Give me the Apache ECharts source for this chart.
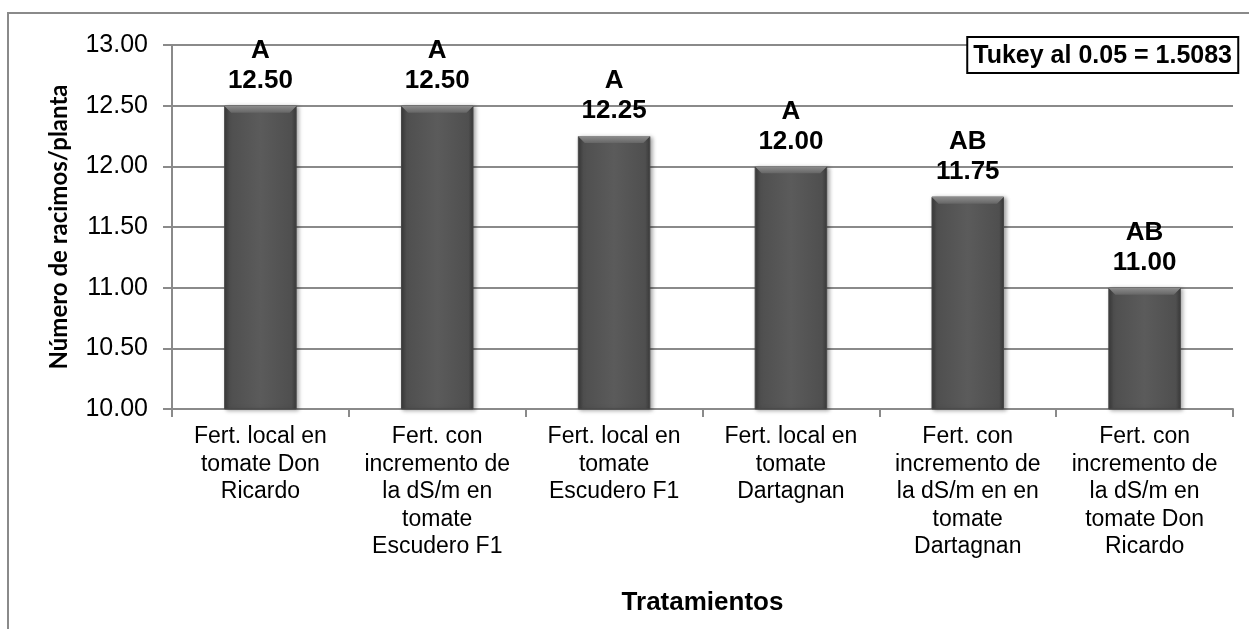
<!DOCTYPE html>
<html>
<head>
<meta charset="utf-8">
<script src="https://cdn.jsdelivr.net/npm/echarts@6/dist/echarts.min.js"></script>
<style>
  html, body { margin: 0; padding: 0; background: #fff; }
  #chart { width: 1249px; height: 629px; }
</style>
</head>
<body>
<div id="chart"></div>
<script>
// Treatments (category labels, wrapped as printed under each bar)
const categories = [
  'Fert. local en\ntomate Don\nRicardo',
  'Fert. con\nincremento de\nla dS/m en\ntomate\nEscudero F1',
  'Fert. local en\ntomate\nEscudero F1',
  'Fert. local en\ntomate\nDartagnan',
  'Fert. con\nincremento de\nla dS/m en en\ntomate\nDartagnan',
  'Fert. con\nincremento de\nla dS/m en\ntomate Don\nRicardo'
];
// Mean number of clusters per plant
const values = [12.50, 12.50, 12.25, 12.00, 11.75, 11.00];
// Tukey grouping letters
const groups = ['A', 'A', 'A', 'A', 'AB', 'AB'];
const yTicks = { min: 10, max: 13, interval: 0.5 };
const tukeyText = 'Tukey al 0.05 = 1.5083';

const BAR_RATIO = 0.41;
const FONT = 'Liberation Sans, Arial, sans-serif';

const chart = echarts.init(document.getElementById('chart'), null, { renderer: 'canvas' });

const barFill = new echarts.graphic.LinearGradient(0, 0, 1, 0, [
  { offset: 0, color: '#3a3a3a' },
  { offset: 0.07, color: '#4f4f4f' },
  { offset: 0.5, color: '#5b5b5b' },
  { offset: 0.93, color: '#4f4f4f' },
  { offset: 1, color: '#3a3a3a' }
]);

// Lighter bevel along the top edge of each bar
function renderBevel(params, api) {
  const idx = api.value(0);
  const top = api.coord([idx, api.value(1)]);
  const w = api.size([1, 0])[0] * BAR_RATIO;
  const x0 = top[0] - w / 2, x1 = top[0] + w / 2, y = top[1];
  const d = 7;
  return {
    type: 'polygon',
    shape: { points: [[x0, y], [x1, y], [x1 - d, y + d], [x0 + d, y + d]] },
    style: {
      fill: new echarts.graphic.LinearGradient(0, 0, 0, 1, [
        { offset: 0, color: '#8e8e8e' },
        { offset: 1, color: '#666666' }
      ])
    },
    silent: true
  };
}

chart.setOption({
  backgroundColor: '#ffffff',
  animation: false,
  textStyle: { fontFamily: FONT },
  graphic: [{
    type: 'rect',
    shape: { x: 8, y: 13, width: 1300, height: 700 },
    style: { fill: 'none', stroke: '#8a8a8a', lineWidth: 2 },
    silent: true
  }],
  title: {
    text: tukeyText,
    right: 11,
    top: 37,
    padding: [5, 6, 3, 6],
    borderColor: '#000',
    borderWidth: 2,
    backgroundColor: '#fff',
    textStyle: {
      fontFamily: FONT,
      fontWeight: 'bold',
      fontSize: 25,
      color: '#000',
      lineHeight: 28
    }
  },
  grid: { left: 172, right: 16, top: 45, bottom: 220, containLabel: false },
  xAxis: {
    type: 'category',
    data: categories,
    name: 'Tratamientos',
    nameLocation: 'middle',
    nameGap: 181,
    nameTextStyle: { fontWeight: 'bold', fontSize: 26, color: '#000', fontFamily: FONT },
    axisLine: { lineStyle: { color: '#8a8a8a', width: 2 } },
    axisTick: { show: true, length: 8, alignWithLabel: false, lineStyle: { color: '#8a8a8a', width: 2 } },
    axisLabel: {
      interval: 0,
      margin: 14,
      fontSize: 23,
      lineHeight: 27.5,
      color: '#000',
      align: 'center',
      fontFamily: FONT
    }
  },
  yAxis: {
    type: 'value',
    min: yTicks.min,
    max: yTicks.max,
    interval: yTicks.interval,
    name: 'Número de racimos/planta',
    nameLocation: 'middle',
    nameRotate: 90,
    nameGap: 101,
    nameTextStyle: { fontWeight: 'bold', fontSize: 24, color: '#000', fontFamily: 'Lato, Open Sans, sans-serif' },
    axisLine: { show: true, lineStyle: { color: '#8a8a8a', width: 2 } },
    axisTick: { show: true, length: 9, lineStyle: { color: '#8a8a8a', width: 2 } },
    splitLine: { show: true, lineStyle: { color: '#8a8a8a', width: 2 } },
    axisLabel: {
      margin: 24,
      fontSize: 25,
      color: '#000',
      formatter: v => v.toFixed(2),
      fontFamily: FONT
    }
  },
  series: [{
    type: 'bar',
    data: values,
    barWidth: (BAR_RATIO * 100) + '%',
    itemStyle: {
      color: barFill,
      borderColor: '#474747',
      borderWidth: 1,
      shadowColor: 'rgba(0,0,0,0.35)',
      shadowBlur: 4,
      shadowOffsetX: 2,
      shadowOffsetY: 1
    },
    label: {
      show: true,
      position: 'top',
      distance: 10,
      formatter: p => groups[p.dataIndex] + '\n' + p.value.toFixed(2),
      fontWeight: 'bold',
      fontSize: 26,
      lineHeight: 30,
      color: '#000',
      align: 'center',
      fontFamily: FONT
    }
  }, {
    type: 'custom',
    renderItem: renderBevel,
    data: values.map((v, i) => [i, v]),
    encode: { x: 0, y: 1 },
    z: 3,
    silent: true
  }]
});
</script>
</body>
</html>
